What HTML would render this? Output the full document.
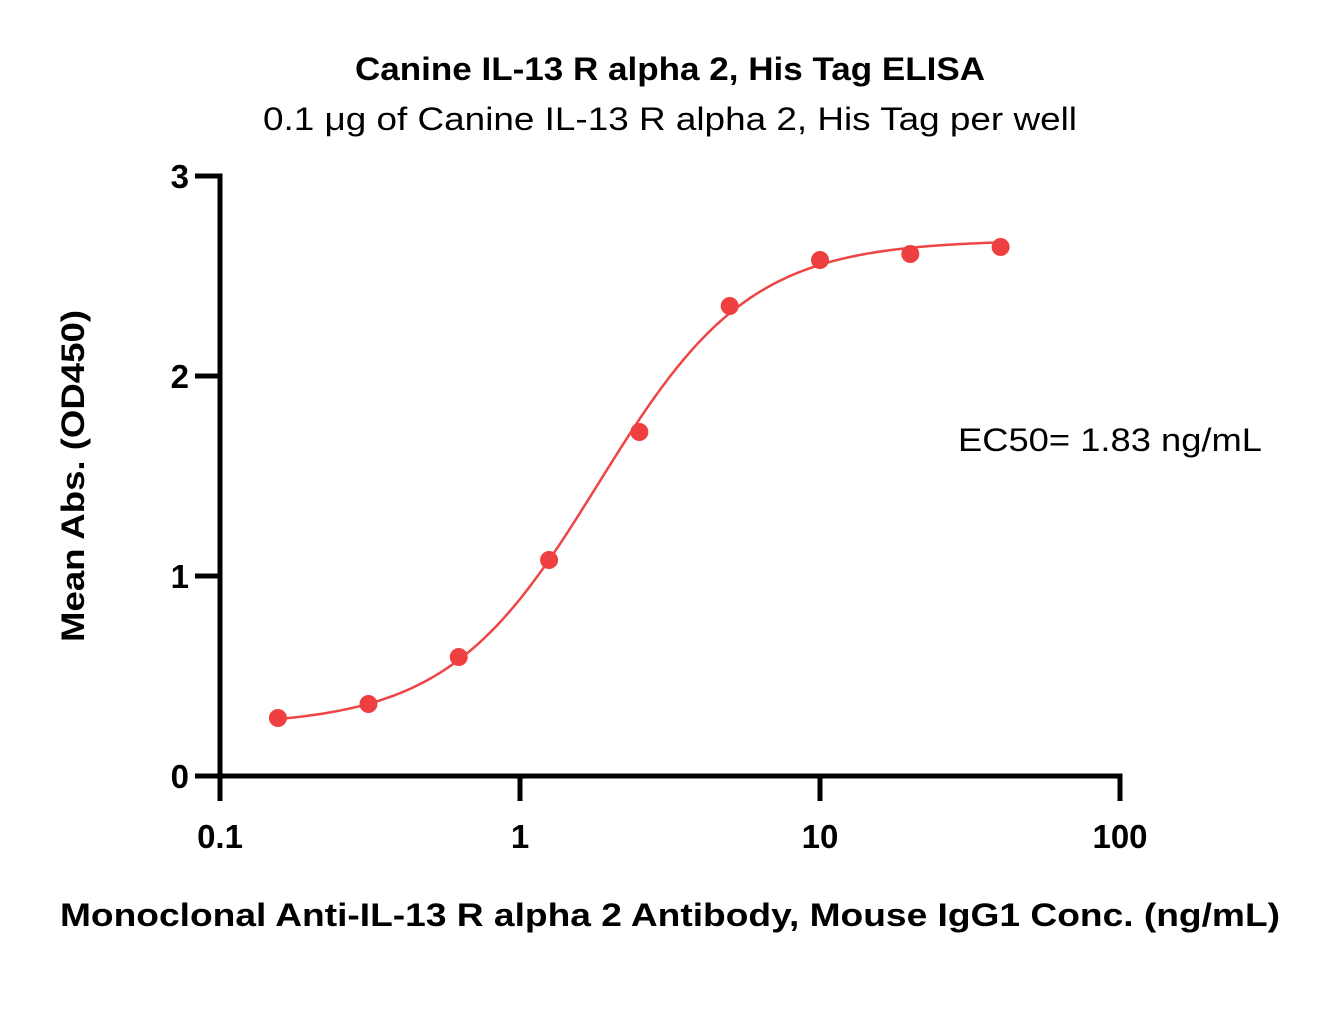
<!DOCTYPE html>
<html><head><meta charset="utf-8"><style>
html,body{margin:0;padding:0;background:#fff;}
svg{display:block;font-family:"Liberation Sans",sans-serif;}
</style></head><body>
<svg id="chart" width="1325" height="1032" viewBox="0 0 1325 1032">
<text x="355" y="80" textLength="630" lengthAdjust="spacingAndGlyphs" font-size="32" font-weight="bold">Canine IL-13 R alpha 2, His Tag ELISA</text>
<text x="263" y="130" textLength="814" lengthAdjust="spacingAndGlyphs" font-size="32">0.1 μg of Canine IL-13 R alpha 2, His Tag per well</text>
<text transform="translate(84,642) rotate(-90)" textLength="332" lengthAdjust="spacingAndGlyphs" font-size="32" font-weight="bold">Mean Abs. (OD450)</text>
<text x="60" y="926" textLength="1220" lengthAdjust="spacingAndGlyphs" font-size="32" font-weight="bold">Monoclonal Anti-IL-13 R alpha 2 Antibody, Mouse IgG1 Conc. (ng/mL)</text>
<text x="958" y="451" textLength="304" lengthAdjust="spacingAndGlyphs" font-size="32">EC50= 1.83 ng/mL</text>
<g id="axes"></g>
<g id="curve"></g>
<g id="points"></g>
</svg>
<script>
const concentrations=[0.156,0.3125,0.625,1.25,2.5,5,10,20,40];
const absorbance=[0.29,0.36,0.595,1.08,1.72,2.35,2.58,2.61,2.645];
const xTicks=[0.1,1,10,100];
const xTickLabels=["0.1","1","10","100"];
const yTicks=[0,1,2,3];
const yTickLabels=["0","1","2","3"];
const fitBottom=0.25, fitTop=2.68, fitEC50=1.83, fitHill=1.72;

const NS="http://www.w3.org/2000/svg";
function X(v){return 220+300*Math.log10(v/0.1);}
function Y(v){return 776-200*v;}
function mk(tag,attrs,parent){const e=document.createElementNS(NS,tag);for(const k in attrs)e.setAttribute(k,attrs[k]);parent.appendChild(e);return e;}
const axes=document.getElementById('axes');
let l=mk('line',{x1:220,y1:Y(3)-2.5,x2:220,y2:Y(0)+2.5,stroke:'#000','stroke-width':5},axes);


l=mk('line',{x1:217.5,y1:Y(0),x2:X(100)+2.5,y2:Y(0),stroke:'#000','stroke-width':5},axes);


yTicks.forEach((t,i)=>{
  const tk=mk('line',{x1:195,y1:Y(t),x2:220,y2:Y(t),stroke:'#000','stroke-width':5},axes);
  
  
  const tx=mk('text',{x:189,y:Y(t)+12,'text-anchor':'end','font-size':33,'font-weight':'bold'},axes);
  tx.textContent=yTickLabels[i];
  
  
});
xTicks.forEach((t,i)=>{
  const tk=mk('line',{x1:X(t),y1:Y(0),x2:X(t),y2:Y(0)+25,stroke:'#000','stroke-width':5},axes);
  
  
  const tx=mk('text',{x:X(t),y:848,'text-anchor':'middle','font-size':33,'font-weight':'bold'},axes);
  tx.textContent=xTickLabels[i];
  
  
});
let d='';
const lo=Math.log10(concentrations[0]),hi=Math.log10(concentrations[concentrations.length-1]);
for(let i=0;i<=200;i++){
  const c=Math.pow(10,lo+(hi-lo)*i/200);
  const v=fitBottom+(fitTop-fitBottom)/(1+Math.pow(fitEC50/c,fitHill));
  d+=(i?'L':'M')+X(c).toFixed(2)+','+Y(v).toFixed(2);
}
const p=mk('path',{d:d,fill:'none',stroke:'#ee4444','stroke-width':2.5},document.getElementById('curve'));


const pts=document.getElementById('points');
concentrations.forEach((c,i)=>{
  const ci=mk('circle',{cx:X(c),cy:Y(absorbance[i]),r:9,fill:'#ee4040'},pts);
  
  
});
</script>
</body></html>
